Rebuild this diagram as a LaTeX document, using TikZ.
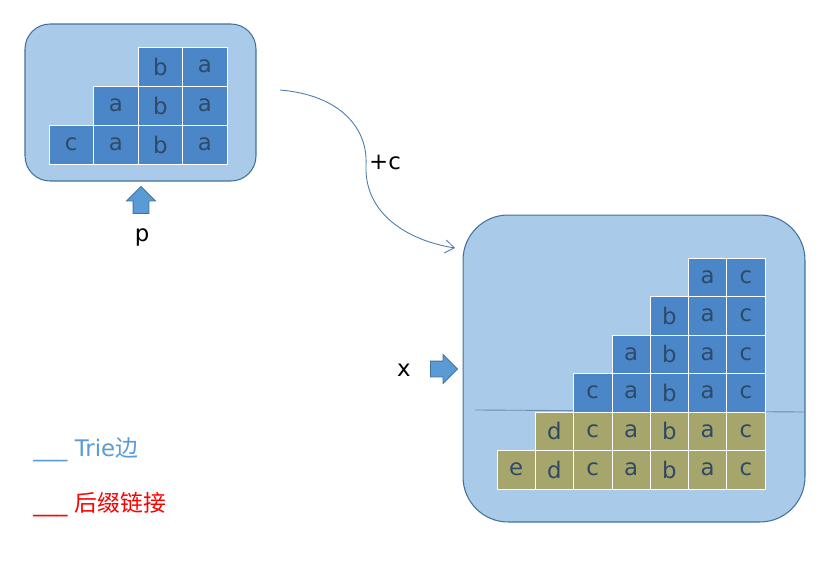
\documentclass[tikz,border=0pt]{standalone}
\usepackage{fontspec}
\setmainfont{DejaVu Sans}
\newfontfamily\cjk{Noto Sans CJK SC}
\usetikzlibrary{positioning,shapes.arrows,arrows.meta}
\definecolor{boxfill}{HTML}{A9CBE9}
\definecolor{boxline}{HTML}{41719C}
\definecolor{cellblue}{HTML}{4A86C8}
\definecolor{cellolive}{HTML}{A5A56C}
\definecolor{celltext}{HTML}{2F4A66}
\definecolor{trieblue}{HTML}{5B9BD5}

\begin{document}
\begin{tikzpicture}[x=0.02cm, y=-0.02cm,
	panel/.style = {draw=boxline, fill=boxfill, line width=0.6pt, rounded corners=#1},
	cell/.style = {draw=white, line width=0.4pt, fill=cellblue, text=celltext, inner sep=0pt, font=\fontsize{13}{15}\selectfont},
	lcell/.style = {cell, minimum width=0.89cm, minimum height=0.78cm},
	rcell/.style = {cell, minimum width=0.766cm, minimum height=0.77cm},
	olive/.style = {fill=cellolive},
	blockarrow/.style = {single arrow, draw=boxline, fill=trieblue, line width=0.5pt, inner sep=0.15cm, minimum height=0.54cm, single arrow head extend=0.13cm},
	label/.style = {font=\fontsize{13}{15}\selectfont}]
	\useasboundingbox (0,0) rectangle (831,564);
	% state p
	\node[panel=0.5cm, minimum width=4.62cm, minimum height=3.14cm] (boxP) at (140.5,102.5) {};
	\foreach \c/\t in {3/b,4/a}
		\node[lcell] (l-1-\c) at ({71.25+44.5*(\c-1)},66.5) {\t};
	\foreach \c/\t in {2/a,3/b,4/a}
		\node[lcell] (l-2-\c) at ({71.25+44.5*(\c-1)},105.5) {\t};
	\foreach \c/\t in {1/c,2/a,3/b,4/a}
		\node[lcell] (l-3-\c) at ({71.25+44.5*(\c-1)},144.5) {\t};
	\node[blockarrow, shape border rotate=90] (upArr) at (141,204) {};
	\node[label] (p) at (142,237) {p};
	% state x
	\node[panel=0.9cm, minimum width=6.84cm, minimum height=6.14cm] (boxX) at (634,368.5) {};
	\coordinate (cutL) at (475,410);
	\coordinate (cutR) at (805,412);
	\draw[boxline!80, line width=0.5pt] (cutL) -- (cutR);
	\foreach \c/\t in {6/a,7/c}
		\node[rcell] (r-1-\c) at ({516.15+38.3*(\c-1)},277.25) {\t};
	\foreach \c/\t in {5/b,6/a,7/c}
		\node[rcell] (r-2-\c) at ({516.15+38.3*(\c-1)},315.75) {\t};
	\foreach \c/\t in {4/a,5/b,6/a,7/c}
		\node[rcell] (r-3-\c) at ({516.15+38.3*(\c-1)},354.25) {\t};
	\foreach \c/\t in {3/c,4/a,5/b,6/a,7/c}
		\node[rcell] (r-4-\c) at ({516.15+38.3*(\c-1)},392.75) {\t};
	\foreach \c/\t in {2/d,3/c,4/a,5/b,6/a,7/c}
		\node[rcell, olive] (r-5-\c) at ({516.15+38.3*(\c-1)},431.25) {\t};
	\foreach \c/\t in {1/e,2/d,3/c,4/a,5/b,6/a,7/c}
		\node[rcell, olive] (r-6-\c) at ({516.15+38.3*(\c-1)},469.75) {\t};
	\node[blockarrow] (rightArr) at (440,369) {};
	\node[label] (x) at (404,370) {x};
	% transition
	\coordinate (edgeS) at (280,90);
	\coordinate (edgeE) at (455,248);
	\draw[trieblue!80!black, line width=0.5pt, -{Straight Barb[length=1.8mm,width=2.6mm]}] (edgeS) .. controls (340,95) and (368,128) .. (366,165) .. controls (364,212) and (405,240) .. (edgeE);
	\node[label] (plusc) at (385,163) {+c};
	% legend
	\node[label, text=trieblue, anchor=base west, inner sep=0pt] (legTrie) at (33,456) {\_\_\_ Trie{\cjk 边}};
	\node[label, text=red, anchor=base west, inner sep=0pt] (legLink) at (33,511) {\_\_\_ {\cjk 后缀链接}};
\end{tikzpicture}
\end{document}
